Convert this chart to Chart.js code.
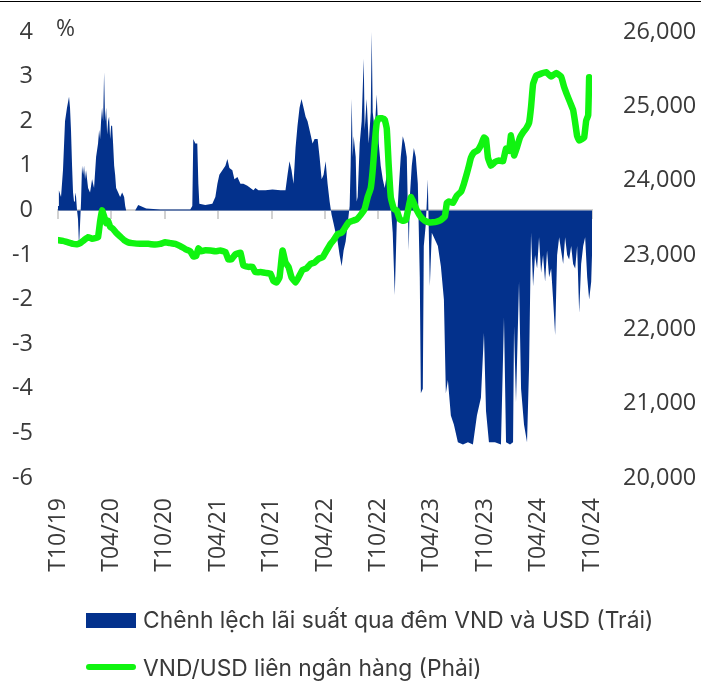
<!DOCTYPE html>
<html>
<head>
<meta charset="utf-8">
<script src="https://cdn.jsdelivr.net/npm/chart.js@4.4.1/dist/chart.umd.min.js"></script>
<style>
  body { margin: 0; background: #fff; }
  #wrap { position: relative; width: 701px; height: 684px; color: #3a3a3a; }
  #rule { position: absolute; left: 0; top: 1px; width: 701px; height: 1px; background: #000; }
  #pct { position: absolute; left: 56px; top: 16px; font: 23px "Open Sans", sans-serif; line-height: 1; }
  .box { position: absolute; left: 86px; width: 50px; }
  .txt { position: absolute; left: 143px; font: 22.8px Inter, sans-serif; line-height: 1; white-space: nowrap; }
</style>
</head>
<body>
<div id="wrap">
  <canvas id="chart" width="701" height="684"></canvas>
  <div id="rule"></div>
  <div id="pct">%</div>
  <div class="box" style="top:613px;height:15px;background:#03318c"></div>
  <div class="txt" style="top:609px">Chênh lệch lãi suất qua đêm VND và USD (Trái)</div>
  <div class="box" style="top:664px;height:6px;border-radius:3px;background:#10f410"></div>
  <div class="txt" style="top:657px">VND/USD liên ngân hàng (Phải)</div>
</div>
<script>
// x positions are months counted from Oct 2019
const tickLabels = ['T10/19', 'T04/20', 'T10/20', 'T04/21', 'T10/21', 'T04/22', 'T10/22', 'T04/23', 'T10/23', 'T04/24', 'T10/24'];

// overnight rate spread VND - USD (%), left axis
const spreadMonth = [0, 0.1, 0.34, 0.56, 0.79, 1.01, 1.24, 1.35, 1.46, 1.58, 1.69, 1.8, 1.91, 2.03, 2.14, 2.25, 2.36, 2.48, 2.59, 2.7,
  2.82, 2.93, 3.04, 3.15, 3.38, 3.6, 3.83, 4.05, 4.28, 4.5, 4.62, 4.73, 4.84, 4.95, 5.07, 5.18, 5.29, 5.41, 5.52, 5.63,
  5.74, 5.86, 5.97, 6.08, 6.19, 6.31, 6.42, 6.53, 6.76, 6.98, 7.21, 7.43, 7.55, 7.66, 8.67, 9.01, 9.46, 9.91, 11.49, 13.18,
  14.86, 15.09, 15.2, 15.43, 15.65, 15.77, 15.88, 16.55, 17.34, 17.68, 17.91, 18.13, 18.47, 18.81, 19.03, 19.26, 19.59, 19.82, 20.16, 20.5,
  20.83, 21.28, 21.62, 21.96, 22.18, 22.52, 23.31, 24.1, 25.0, 25.56, 25.79, 26.01, 26.24, 26.46, 26.69, 26.91, 27.14, 27.36, 27.59, 27.82,
  28.04, 28.38, 28.6, 28.83, 29.17, 29.39, 29.62, 29.84, 30.07, 30.29, 30.52, 30.74, 30.97, 31.19, 31.42, 31.64, 31.87, 32.09, 32.32, 32.55,
  32.77, 32.88, 33.0, 33.11, 33.22, 33.45, 33.56, 33.67, 33.9, 34.12, 34.35, 34.46, 34.68, 34.91, 35.14, 35.25, 35.36, 35.59, 35.81, 36.04,
  36.26, 36.49, 36.71, 36.94, 37.16, 37.39, 37.61, 37.84, 38.06, 38.29, 38.51, 38.74, 38.96, 39.19, 39.41, 39.53, 39.75, 39.98, 40.2, 40.43,
  40.65, 40.77, 40.99, 41.1, 41.33, 41.55, 41.78, 42.0, 42.23, 42.45, 42.68, 43.02, 43.36, 43.58, 43.81, 44.14, 44.48, 44.93, 45.5, 46.06,
  46.62, 47.07, 47.52, 47.86, 48.09, 48.42, 49.1, 49.77, 50.11, 50.34, 50.79, 51.13, 51.24, 51.46, 51.8, 52.03, 52.36, 52.7, 52.93, 53.15,
  53.38, 53.6, 53.83, 54.05, 54.28, 54.5, 54.73, 54.95, 55.18, 55.41, 55.63, 55.86, 56.08, 56.31, 56.53, 56.76, 56.98, 57.21, 57.43, 57.66,
  57.88, 58.11, 58.33, 58.56, 58.78, 59.01, 59.23, 59.46, 59.68, 59.91, 60.0];
const spreadValue = [0.1, 0.45, 0.3, 0.9, 2.0, 2.3, 2.55, 2.3, 1.8, 1.0, 0.4, 0.2, 0.4, 0.3, 0.0, -0.2, -0.8, -0.3, 0.2, 1.0,
  0.8, 1.0, 0.7, 0.9, 0.5, 0.4, 0.7, 0.5, 1.2, 1.5, 1.8, 1.6, 2.0, 2.3, 2.0, 3.1, 2.0, 2.3, 1.7, 2.0,
  2.1, 1.6, 1.9, 1.9, 1.5, 1.0, 0.8, 0.5, 0.4, 0.3, 0.4, 0.3, 0.1, 0.0, 0.0, 0.12, 0.08, 0.04, 0.02, 0.02,
  0.02, 0.1, 1.6, 1.5, 1.5, 0.6, 0.15, 0.12, 0.15, 0.3, 0.6, 0.8, 0.9, 1.0, 1.15, 0.95, 0.9, 0.7, 0.75, 0.6,
  0.6, 0.55, 0.5, 0.45, 0.5, 0.45, 0.45, 0.47, 0.45, 0.45, 0.8, 1.1, 0.9, 0.6, 1.4, 1.9, 2.3, 2.5, 2.3, 2.1,
  2.0, 1.7, 1.5, 1.6, 1.6, 1.2, 0.7, 0.8, 1.1, 0.6, 0.2, -0.1, -0.3, -0.5, -0.7, -1.0, -1.25, -0.9, -0.7, -0.3,
  0.1, 1.0, 2.5, 1.2, 1.66, 1.2, 0.2, 0.3, 1.5, 2.0, 3.4, 1.8, 2.5, 1.5, 2.2, 4.0, 2.2, 1.8, 2.6, 1.5,
  1.0, 0.7, 0.5, 0.8, 0.4, 0.1, -0.5, -1.9, -0.3, 0.5, 1.2, 1.66, 1.5, 1.2, -0.9, 0.3, 1.0, 1.4, 1.2, 0.6,
  -1.5, -4.1, -4.0, -0.8, -0.3, 0.7, -1.7, -0.5, -0.6, -0.7, -0.8, -1.25, -2.0, -4.1, -3.8, -4.6, -4.8, -5.2, -5.25, -5.2,
  -5.25, -4.6, -4.2, -2.75, -4.5, -5.2, -5.2, -5.25, -2.4, -5.2, -5.25, -5.2, -2.6, -4.3, -1.6, -4.0, -4.8, -5.2, -3.5, -0.5,
  -1.7, -1.0, -1.3, -0.6, -1.4, -1.0, -1.6, -0.9, -1.5, -1.3, -2.0, -2.8, -1.0, -0.6, -0.9, -1.2, -0.6, -1.0, -1.1, -0.8,
  -1.2, -1.3, -0.8, -2.3, -1.2, -0.8, -0.6, -1.5, -2.0, -1.6, -1.0];

// interbank VND/USD, right axis
const rateMonth = [0, 0.56, 1.13, 1.69, 2.14, 2.48, 2.93, 3.38, 3.83, 4.28, 4.5, 4.73, 4.95, 5.18, 5.41, 5.63, 5.86, 6.19, 6.53, 6.98,
  7.43, 7.88, 8.33, 9.23, 10.14, 10.92, 11.49, 12.05, 12.61, 13.18, 13.74, 14.3, 14.86, 15.2, 15.54, 15.77, 16.1, 16.55, 17.12, 17.68,
  18.24, 18.81, 19.14, 19.48, 19.93, 20.5, 20.83, 21.4, 21.85, 22.18, 22.75, 23.31, 23.87, 24.21, 24.55, 24.89, 25.23, 25.56, 25.9, 26.24,
  26.69, 27.03, 27.48, 27.93, 28.38, 28.83, 29.28, 29.73, 30.18, 30.63, 30.97, 31.42, 31.87, 32.32, 32.66, 33.11, 33.56, 34.01, 34.46, 34.8,
  35.14, 35.36, 35.59, 35.81, 36.04, 36.37, 36.71, 36.94, 37.16, 37.39, 37.73, 38.06, 38.4, 38.74, 39.08, 39.41, 39.64, 39.98, 40.32, 40.77,
  41.22, 41.67, 42.12, 42.57, 43.02, 43.47, 43.69, 43.92, 44.37, 44.82, 45.27, 45.61, 45.95, 46.17, 46.4, 46.73, 47.18, 47.52, 47.86, 48.09,
  48.31, 48.65, 49.1, 49.55, 50.0, 50.34, 50.68, 50.9, 51.24, 51.58, 51.91, 52.25, 52.59, 52.93, 53.15, 53.38, 53.72, 54.28, 54.84, 55.41,
  55.97, 56.53, 56.87, 57.21, 57.55, 57.88, 58.11, 58.33, 58.56, 58.9, 59.12, 59.35, 59.57, 59.68];
const rateValue = [23200, 23190, 23170, 23150, 23145, 23160, 23200, 23240, 23220, 23230, 23240, 23450, 23600, 23520, 23430, 23460, 23380, 23350, 23300, 23250,
  23200, 23170, 23160, 23150, 23150, 23140, 23150, 23170, 23160, 23150, 23120, 23080, 23050, 22980, 22990, 23090, 23050, 23065, 23060, 23050,
  23060, 23040, 22940, 22940, 23010, 23030, 22860, 22840, 22840, 22770, 22770, 22760, 22750, 22650, 22630, 22700, 23060, 22900, 22840, 22700,
  22630, 22700, 22800, 22820, 22880, 22900, 22950, 22970, 23060, 23150, 23200, 23280, 23300, 23380, 23440, 23460, 23480, 23540, 23620, 23780,
  23900, 24140, 24500, 24780, 24840, 24840, 24820, 24700, 24200, 23780, 23620, 23600, 23480, 23460, 23470, 23650, 23780, 23700, 23600, 23510,
  23460, 23440, 23440, 23450, 23470, 23520, 23700, 23720, 23700, 23800, 23850, 23960, 24100, 24200, 24310, 24380, 24410, 24480, 24580, 24560,
  24310, 24200, 24250, 24270, 24260, 24430, 24400, 24610, 24340, 24450, 24580, 24650, 24700, 24780, 24990, 25300, 25410, 25440, 25460, 25400,
  25450, 25400, 25260, 25150, 25050, 24950, 24780, 24600, 24540, 24560, 24580, 24810, 24880, 25390];

const tickFont = { family: 'Open Sans', size: 23.5 };
const textColor = '#3a3a3a';

// pin the axis boxes so the plot sits where the original has it
const fixWidth = w => s => { s.width = w; s.paddingTop = 0; s.paddingBottom = 0; };
const noSidePad = s => { s.paddingLeft = 0; s.paddingRight = 0; };

new Chart(document.getElementById('chart'), {
  type: 'line',
  data: {
    datasets: [
      {
        label: 'VND/USD liên ngân hàng (Phải)',
        data: rateMonth.map((m, i) => ({ x: m, y: rateValue[i] })),
        yAxisID: 'yR',
        borderColor: '#10f410',
        borderWidth: 6.5,
        borderJoinStyle: 'round',
        borderCapStyle: 'round',
        pointRadius: 0,
        tension: 0.1,
        fill: false
      },
      {
        label: 'Chênh lệch lãi suất qua đêm VND và USD (Trái)',
        data: spreadMonth.map((m, i) => ({ x: m, y: spreadValue[i] })),
        yAxisID: 'yL',
        backgroundColor: '#03318c',
        borderColor: '#03318c',
        borderWidth: 0,
        pointRadius: 0,
        tension: 0,
        fill: 'origin'
      }
    ]
  },
  options: {
    responsive: false,
    animation: false,
    layout: { padding: { top: 32, left: 6, right: 2, bottom: 106 } },
    plugins: { legend: { display: false }, tooltip: { enabled: false } },
    scales: {
      x: {
        type: 'linear', position: 'bottom', min: 0, max: 60,
        grid: { display: false, drawTicks: false }, border: { display: false },
        ticks: {
          stepSize: 6, autoSkip: false, maxRotation: 90, minRotation: 90, padding: 20,
          color: textColor, font: { family: 'Open Sans', size: 23 },
          callback: v => tickLabels[v / 6]
        },
        afterFit: s => { noSidePad(s); s.height = 100; }
      },
      x0: {
        type: 'linear', position: { yL: 0 }, min: 0, max: 60,
        ticks: { display: false, stepSize: 6 },
        grid: { drawOnChartArea: false, tickLength: 8, color: '#d2d2d2', lineWidth: 2 },
        border: { color: '#d2d2d2', width: 2 },
        afterFit: noSidePad
      },
      yL: {
        position: 'left', min: -6, max: 4,
        grid: { display: false, drawTicks: false }, border: { display: false },
        ticks: { stepSize: 1, padding: 25, color: textColor, font: tickFont },
        afterFit: fixWidth(52)
      },
      yR: {
        position: 'right', min: 20000, max: 26000,
        grid: { display: false, drawTicks: false }, border: { display: false },
        ticks: {
          stepSize: 1000, padding: 31, color: textColor, font: tickFont,
          callback: v => v.toLocaleString('en-US')
        },
        afterFit: fixWidth(107)
      }
    }
  }
});
</script>
</body>
</html>
